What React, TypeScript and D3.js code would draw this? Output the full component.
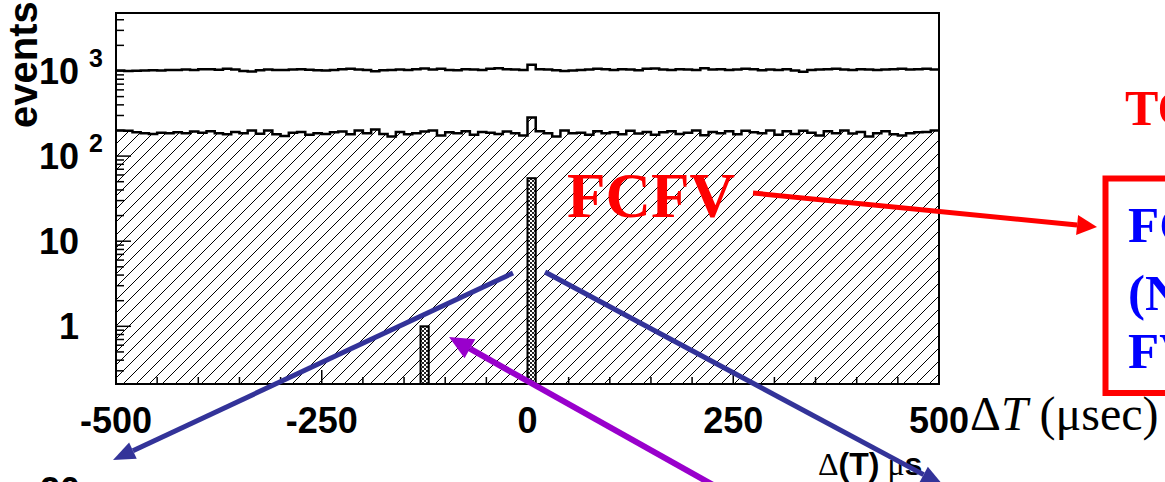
import React from "react";
import * as d3 from "d3";

// histogram binning (10 usec bins from -500 to 500)
const binStart = -500;
const binWidth = 10;

// all events (upper open line)
const totalCounts = [
  1010, 1000, 1005, 1015, 1020, 1010, 1030, 1025, 1040, 1030,
  1050, 1045, 1035, 1060, 1040, 1000, 985, 1020, 1040, 1030,
  1025, 1040, 1050, 1035, 1020, 1010, 1030, 1045, 1060, 1040,
  1030, 990, 1020, 1030, 1040, 1025, 1050, 1070, 1040, 1060,
  1030, 1020, 1050, 1040, 1030, 1060, 1080, 1050, 1040, 1030,
  1180, 1050, 1040, 1020, 1000, 1010, 1030, 1040, 1060, 1045,
  1030, 1050, 1040, 1020, 1060, 1070, 1040, 1030, 1050, 1040,
  1030, 1080, 1040, 1050, 1030, 1040, 1060, 1050, 1020, 1040,
  1030, 1050, 1010, 980, 1030, 1040, 1050, 1060, 1040, 1030,
  1050, 1040, 1030, 1040, 1050, 1060, 1040, 1050, 1060, 1040,
];

// hatched histogram
const hatchedCounts = [
  200, 198, 190, 185, 182, 188, 186, 190, 185, 195,
  188, 196, 185, 180, 192, 186, 200, 183, 200, 180,
  172, 188, 192, 178, 186, 182, 190, 195, 180, 200,
  185, 205, 182, 170, 192, 180, 186, 195, 200, 175,
  190, 185, 196, 178, 192, 188, 182, 195, 186, 175,
  285, 196, 186, 170, 200, 185, 188, 178, 196, 185,
  190, 180, 198, 184, 192, 178, 190, 196, 182, 188,
  200, 176, 192, 186, 196, 180, 198, 190, 185, 200,
  178, 196, 182, 198, 188, 175, 196, 186, 200, 184,
  192, 170, 186, 196, 180, 175, 186, 190, 192, 200,
];

// FCFV candidate bins
const fcfvStarts = [-130, 0];
const fcfvCounts = [1, 55];

const xMajorTicks = [-500, -250, 0, 250, 500];
const xTickLabels = ["-500", "-250", "0", "250", "500"];
const yMajorTicks = [1, 10, 100, 1000];
const yTickBase = ["1", "10", "10", "10"];
const yTickExp = ["", "", "2", "3"];

const sans = "'Liberation Sans', Arial, Helvetica, sans-serif";
const serif = "'Liberation Serif', 'Times New Roman', serif";

function Arrow({ x1, y1, x2, y2, color, width, head, headW }) {
  const a = Math.atan2(y2 - y1, x2 - x1);
  const bx = x2 - head * Math.cos(a);
  const by = y2 - head * Math.sin(a);
  const px = -Math.sin(a) * headW / 2;
  const py = Math.cos(a) * headW / 2;
  return (
    <g>
      <line x1={x1} y1={y1} x2={bx} y2={by} stroke={color} strokeWidth={width} />
      <polygon points={`${x2},${y2} ${bx + px},${by + py} ${bx - px},${by - py}`} fill={color} />
    </g>
  );
}

export default function App() {
  const W = 1165;
  const H = 482;
  const left = 116, right = 939, top = 13, bottom = 384;

  const x = d3.scaleLinear().domain([-500, 500]).range([left, right]);
  const y = d3.scaleLog().domain([0.21, 4800]).range([bottom, top]);

  const pts = (arr) => {
    const p = arr.map((v, i) => [binStart + i * binWidth, v]);
    p.push([binStart + arr.length * binWidth, arr[arr.length - 1]]);
    return p;
  };

  const line = d3
    .line()
    .x((d) => x(d[0]))
    .y((d) => y(d[1]))
    .curve(d3.curveStepAfter);
  const area = d3
    .area()
    .x((d) => x(d[0]))
    .y0(bottom)
    .y1((d) => y(d[1]))
    .curve(d3.curveStepAfter);

  const xMinor = x.ticks(20).filter((t) => !xMajorTicks.includes(t));
  const yMinor = y
    .ticks()
    .filter((t) => !yMajorTicks.includes(t))
    .filter((t) => t >= 0.21 && t <= 4800);

  const hs = 13;

  return (
    <svg
      width={W}
      height={H}
      style={{ position: "absolute", left: 0, top: 0, background: "#fff" }}
    >
      <defs>
        <pattern id="hatch" patternUnits="userSpaceOnUse" width={hs} height={hs}>
          <path
            d={`M-2,2 l4,-4 M0,${hs} l${hs},${-hs} M${hs - 2},${hs + 2} l4,-4`}
            stroke="#000"
            strokeWidth={1}
          />
        </pattern>
        <pattern id="checker" patternUnits="userSpaceOnUse" width={4} height={4}>
          <rect width={4} height={4} fill="#fff" />
          <rect width={2} height={2} fill="#222" />
          <rect x={2} y={2} width={2} height={2} fill="#222" />
        </pattern>
        <clipPath id="plot">
          <rect x={left} y={top} width={right - left} height={bottom - top} />
        </clipPath>
      </defs>

      <g clipPath="url(#plot)">
        <path d={area(pts(hatchedCounts))} fill="url(#hatch)" />
        <path d={line(pts(hatchedCounts))} fill="none" stroke="#000" strokeWidth={2.5} />
        <path d={line(pts(totalCounts))} fill="none" stroke="#000" strokeWidth={2.5} />
        {fcfvStarts.map((s, i) => (
          <rect
            key={i}
            x={x(s)}
            y={y(fcfvCounts[i])}
            width={x(s + binWidth) - x(s)}
            height={bottom - y(fcfvCounts[i])}
            fill="url(#checker)"
            stroke="#000"
            strokeWidth={2}
          />
        ))}
      </g>

      {/* axes ticks */}
      <g stroke="#000" strokeWidth={1.5}>
        {yMajorTicks.map((t) => (
          <line key={t} x1={left} x2={left + 15} y1={y(t)} y2={y(t)} />
        ))}
        {yMinor.map((t) => (
          <line key={t} x1={left} x2={left + 8} y1={y(t)} y2={y(t)} />
        ))}
        {xMajorTicks.map((t) => (
          <line key={t} x1={x(t)} x2={x(t)} y1={bottom} y2={bottom - 14} />
        ))}
        {xMinor.map((t) => (
          <line key={t} x1={x(t)} x2={x(t)} y1={bottom} y2={bottom - 7} />
        ))}
      </g>
      <rect
        x={left}
        y={top}
        width={right - left}
        height={bottom - top}
        fill="none"
        stroke="#000"
        strokeWidth={2}
      />

      {/* tick labels */}
      <g fontFamily={sans} fontWeight="bold" fill="#000">
        {yMajorTicks.map((t, i) => (
          <g key={t}>
            <text x={79} y={y(t) + 13} fontSize={36} textAnchor="end">
              {yTickBase[i]}
            </text>
            {yTickExp[i] && (
              <text x={89} y={y(t) - 4} fontSize={25}>
                {yTickExp[i]}
              </text>
            )}
          </g>
        ))}
        {xMajorTicks.map((t, i) => (
          <text key={t} x={x(t)} y={433} fontSize={36} textAnchor="middle">
            {xTickLabels[i]}
          </text>
        ))}
        <text transform="translate(37,128) rotate(-90)" fontSize={40}>
          events
        </text>
        <text x={40} y={503} fontSize={36}>
          20
        </text>
      </g>

      {/* axis titles */}
      <text x={970} y={430} fontFamily={serif} fontSize={48} fill="#000">
        Δ<tspan fontStyle="italic">T</tspan> (μsec)
      </text>
      <text x={818} y={475} fontSize={32} fill="#000">
        <tspan fontFamily={serif}>Δ</tspan>
        <tspan fontFamily={sans} fontWeight="bold">(T)</tspan>
        <tspan fontFamily={serif}> μ</tspan>
        <tspan fontFamily={sans} fontWeight="bold">s</tspan>
      </text>

      {/* annotations */}
      <text x={567} y={217} fontFamily={serif} fontWeight="bold" fontSize={63} fill="#ff0000">
        FCFV
      </text>
      <text x={1125} y={125} fontFamily={serif} fontWeight="bold" fontSize={50} fill="#ff0000">
        TO
      </text>
      <rect x={1105.5} y={178.5} width={120} height={214.5} fill="none" stroke="#ff0000" strokeWidth={6} />
      <g fontFamily={serif} fontWeight="bold" fontSize={51} fill="#0000ff">
        <text x={1128} y={242}>FC</text>
        <text x={1128} y={310}>(N</text>
        <text x={1128} y={368}>FV</text>
      </g>

      <Arrow x1={753} y1={193} x2={1097} y2={227} color="#ff0000" width={5} head={20} headW={20} />
      <Arrow x1={513} y1={273} x2={113} y2={460} color="#333399" width={5} head={22} headW={18} />
      <Arrow x1={545} y1={272} x2={943} y2={485} color="#333399" width={5} head={22} headW={18} />
      <Arrow x1={722} y1={490} x2={449} y2={337} color="#9900cc" width={6} head={24} headW={22} />
    </svg>
  );
}
